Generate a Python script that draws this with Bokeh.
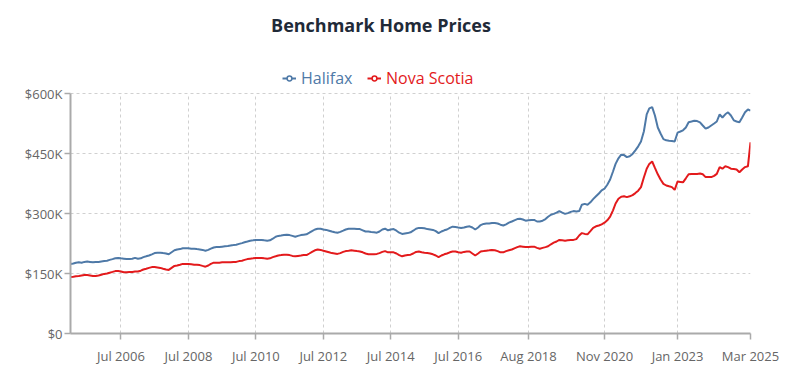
import pandas as pd
from bokeh.plotting import figure
from bokeh.models import (ColumnDataSource, Range1d, FixedTicker, Legend, LegendItem,
                          Label, DatetimeTickFormatter)
from bokeh.embed import file_html
from bokeh.resources import INLINE

# ---------------- data (thousands of dollars, monthly Jan 2005 - Mar 2025) ----------------
start_month = "2005-01-01"
halifax = [
    174, 175, 177, 178, 177, 179, 180, 179, 178, 179, 179, 180,   # 2005
    181, 182, 184, 186, 188, 189, 188, 187, 186, 186, 187, 189,   # 2006
    187, 188, 191, 193, 195, 198, 201, 202, 202, 201, 200, 198,   # 2007
    203, 208, 210, 211, 213, 213, 213, 212, 212, 211, 210, 209,   # 2008
    207, 209, 212, 215, 216, 216, 217, 218, 219, 220, 221, 222,   # 2009
    224, 226, 228, 230, 232, 233, 234, 234, 234, 233, 232, 233,   # 2010
    237, 242, 244, 245, 246, 247, 246, 244, 242, 244, 246, 247,   # 2011
    248, 252, 256, 260, 262, 262, 260, 259, 257, 255, 253, 252,   # 2012
    254, 257, 260, 262, 262, 262, 261, 261, 258, 255, 255, 254,   # 2013
    253, 252, 255, 260, 262, 258, 260, 261, 257, 252, 249, 250,   # 2014
    251, 253, 257, 262, 264, 264, 263, 261, 260, 259, 256, 251,   # 2015
    255, 258, 260, 264, 267, 266, 265, 264, 265, 267, 268, 265,   # 2016
    260, 265, 271, 274, 275, 275, 276, 276, 275, 272, 270, 273,   # 2017
    277, 280, 283, 286, 287, 285, 282, 283, 284, 284, 280, 280,   # 2018
    282, 286, 292, 297, 299, 302, 306, 302, 299, 301, 304, 306,   # 2019
    305, 306, 322, 324, 322, 328, 336, 343, 350, 358, 362, 372,   # 2020
    385, 405, 424, 438, 447, 446, 441, 443, 449, 458, 468, 480,   # 2021
    505, 548, 563, 566, 545, 515, 500, 486, 483, 482, 481, 480,   # 2022
    502, 505, 508, 515, 528, 530, 532, 531, 528, 520, 512, 515,   # 2023
    520, 525, 530, 548, 540, 548, 553, 545, 533, 530, 528, 540,   # 2024
    553, 560, 557,                                                # 2025
]
nova_scotia = [
    141, 142, 143, 144, 145, 146, 146, 145, 144, 144, 145, 147,   # 2005
    149, 150, 152, 154, 156, 156, 155, 153, 153, 154, 154, 155,   # 2006
    155, 157, 160, 162, 164, 166, 166, 165, 164, 162, 160, 159,   # 2007
    164, 169, 170, 172, 174, 174, 174, 173, 172, 172, 171, 169,   # 2008
    167, 170, 174, 177, 177, 177, 178, 178, 178, 178, 179, 179,   # 2009
    181, 182, 184, 186, 187, 188, 189, 189, 189, 188, 187, 188,   # 2010
    191, 193, 195, 196, 197, 197, 196, 194, 193, 194, 195, 196,   # 2011
    196, 200, 204, 208, 210, 209, 207, 205, 203, 201, 200, 199,   # 2012
    201, 204, 206, 207, 208, 207, 206, 205, 203, 200, 198, 198,   # 2013
    198, 199, 201, 204, 206, 203, 203, 203, 200, 196, 193, 195,   # 2014
    196, 197, 200, 204, 205, 203, 202, 201, 200, 198, 195, 191,   # 2015
    195, 198, 200, 203, 205, 205, 203, 202, 204, 205, 205, 200,   # 2016
    195, 200, 205, 206, 207, 208, 209, 208, 206, 203, 203, 206,   # 2017
    208, 210, 213, 216, 218, 217, 216, 216, 217, 217, 214, 212,   # 2018
    214, 216, 218, 223, 227, 230, 234, 233, 232, 233, 234, 234,   # 2019
    236, 245, 251, 249, 248, 256, 264, 268, 270, 273, 277, 283,   # 2020
    292, 308, 325, 337, 342, 343, 341, 343, 346, 351, 357, 366,   # 2021
    390, 412, 424, 430, 414, 398, 385, 374, 370, 368, 366, 359,   # 2022
    380, 379, 378, 388, 398, 399, 399, 399, 400, 398, 391, 391,   # 2023
    391, 394, 399, 416, 412, 418, 416, 412, 411, 410, 403, 410,   # 2024
    416, 418, 478,                                                # 2025
]
x_tick_dates = ["2006-07-01", "2008-07-01", "2010-07-01", "2012-07-01", "2014-07-01",
                "2016-07-01", "2018-08-01", "2020-11-01", "2023-01-01", "2025-03-01"]
y_ticks = [0, 150, 300, 450, 600]
y_tick_labels = ["$0", "$150K", "$300K", "$450K", "$600K"]

chart_title = "Benchmark Home Prices"
series_names = ["Halifax", "Nova Scotia"]
series_colors = ["#4e79a7", "#e31a1c"]

FONT = "Open Sans"
W, H = 806, 381
BORDER_L, BORDER_R, BORDER_B = 70, 56, 48
FRAME_H = H - BORDER_B                 # frame spans the page from the top down to the x axis
Y_MAX = 600
PX_PER_UNIT = 240 / Y_MAX              # 0 .. 600K occupy the bottom 240 px of the frame

dates = pd.date_range(start_month, periods=len(halifax), freq="MS")
source = ColumnDataSource(dict(date=dates, hfx=halifax, ns=nova_scotia))

p = figure(width=W, height=H, x_axis_type="datetime", output_backend="svg",
           toolbar_location=None, min_border_left=BORDER_L, min_border_right=BORDER_R,
           min_border_top=0, min_border_bottom=BORDER_B)
p.outline_line_color = None
p.x_range = Range1d(dates[0], dates[-1])
p.y_range = Range1d(0, FRAME_H / PX_PER_UNIT)   # headroom above 600K holds title + legend

tick_ms = [pd.Timestamp(d).value / 1e6 for d in x_tick_dates]
p.xaxis.ticker = FixedTicker(ticks=tick_ms)
p.xaxis.formatter = DatetimeTickFormatter(months="%b %Y", days="%b %Y", years="%b %Y")
p.yaxis.ticker = FixedTicker(ticks=y_ticks)
p.yaxis.major_label_overrides = {v: l for v, l in zip(y_ticks, y_tick_labels)}
p.yaxis.bounds = (0, Y_MAX)

for ax in (p.xaxis[0], p.yaxis[0]):
    ax.axis_line_color = "#aaaaaa"
    ax.axis_line_width = 2
    ax.major_tick_line_color = "#aaaaaa"
    ax.major_tick_line_width = 1.5
    ax.major_tick_in = 0
    ax.major_tick_out = 6
    ax.minor_tick_line_color = None
    ax.major_label_text_font = FONT
    ax.major_label_text_font_size = "13px"
    ax.major_label_text_color = "#666666"
p.xaxis.major_label_standoff = 7
p.yaxis.major_label_standoff = 2

for g in (p.xgrid[0], p.ygrid[0]):
    g.grid_line_color = "#d0d0d0"
    g.grid_line_dash = "3 3"
    g.grid_line_width = 1
p.xgrid[0].cross_bounds = (0, Y_MAX)

p.line("date", "hfx", source=source, line_color=series_colors[0], line_width=2)
p.line("date", "ns", source=source, line_color=series_colors[1], line_width=2)

# title (screen units, relative to the frame's bottom-left corner)
p.add_layout(Label(x=380.5 - BORDER_L, y=FRAME_H - 24, x_units="screen", y_units="screen",
                   text=chart_title, text_align="center", text_baseline="middle",
                   text_font=FONT, text_font_size="18px", text_font_style="bold",
                   text_color="#1f2a38"))

# legends, one per series so each label keeps its series colour
nan_src = ColumnDataSource(dict(x=[float("nan")], y=[float("nan")]))
legend_x = [282, 367]
for name, color, lx in zip(series_names, series_colors, legend_x):
    lr = p.line("x", "y", source=nan_src, line_color=color, line_width=2)
    sr = p.scatter("x", "y", source=nan_src, marker="circle", size=6, fill_color="white",
                   line_color=color, line_width=1.5)
    lg = Legend(items=[LegendItem(label=name, renderers=[lr, sr])],
                location=(lx - BORDER_L, FRAME_H - 89),
                orientation="horizontal", padding=0, margin=0, spacing=0,
                glyph_width=14, glyph_height=12, label_height=12, label_standoff=5,
                label_text_font=FONT, label_text_font_size="16px", label_text_color=color,
                border_line_alpha=0, background_fill_alpha=0)
    p.add_layout(lg)

open("out.html", "w").write(file_html(p, INLINE))
